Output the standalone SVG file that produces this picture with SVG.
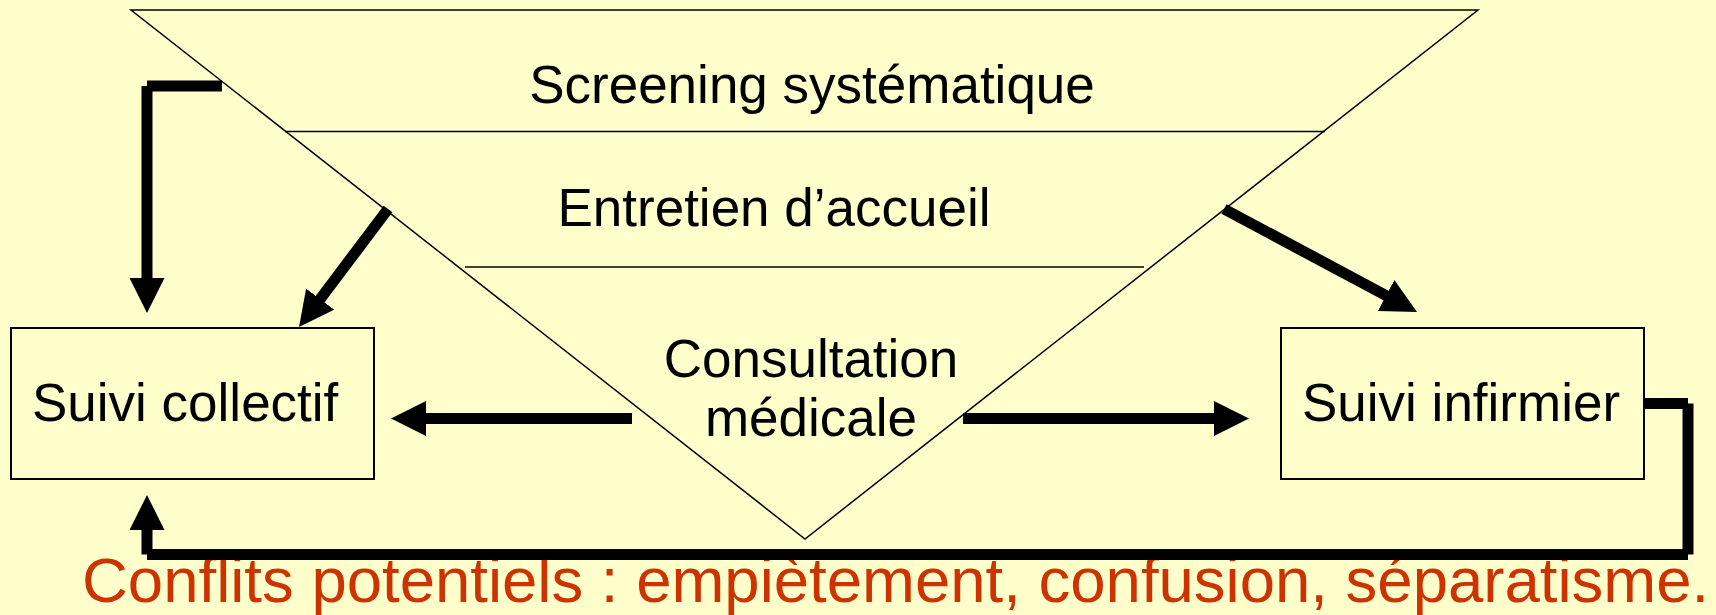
<svg xmlns="http://www.w3.org/2000/svg" width="1716" height="615" viewBox="0 0 1716 615">
  <style>
    .bg { fill: #FFFFCC; }
    .thin { fill: none; stroke: #000; stroke-width: 1.5; }
    .box { fill: none; stroke: #000; stroke-width: 2; }
    .lbl { font-family: "Liberation Sans", Arial, sans-serif; font-size: 53px; fill: #000; }
    .mid { text-anchor: middle; }
    .note { font-family: "Liberation Sans", Arial, sans-serif; font-size: 63.5px; fill: #CC3300; }
    .conn { fill: none; stroke: #000; stroke-width: 11; stroke-linecap: butt; stroke-linejoin: miter; }
  </style>
  <defs>
    <marker id="head" markerUnits="userSpaceOnUse" viewBox="0 0 35 35" markerWidth="35" markerHeight="35" refX="2" refY="17.5" orient="auto">
      <path d="M0,0 L35,17.5 L0,35 Z" fill="#000"/>
    </marker>
  </defs>
  <rect class="bg" x="0" y="0" width="1716" height="615"/>

  <g id="funnel">
    <polygon class="thin" points="131,10 1478,10 805,539"/>
    <line class="thin" x1="285" y1="131.5" x2="1325" y2="131.5"/>
    <line class="thin" x1="465" y1="267" x2="1144" y2="267"/>
  </g>

  <g id="screening">
    <text class="lbl mid" x="812" y="103">Screening systématique</text>
  </g>
  <g id="entretien">
    <text class="lbl mid" x="774" y="226">Entretien d’accueil</text>
  </g>
  <g id="consultation">
    <text class="lbl mid" x="811" y="377">Consultation</text>
    <text class="lbl mid" x="811" y="436">médicale</text>
  </g>

  <g id="suivi-collectif">
    <rect class="box" x="11" y="328" width="363" height="151"/>
    <text class="lbl" x="32" y="421">Suivi collectif</text>
  </g>
  <g id="suivi-infirmier">
    <rect class="box" x="1281" y="328" width="363" height="151"/>
    <text class="lbl" x="1302" y="421">Suivi infirmier</text>
  </g>

  <g id="conflits">
    <text class="note" x="82" y="601.5">Conflits potentiels : empiètement, confusion, séparatisme.</text>
  </g>

  <g id="connectors">
    <path class="conn" d="M222,86 H147 M147,86 V280" marker-end="url(#head)"/>
    <path class="conn" d="M388,209 L318.9,300.7" marker-end="url(#head)"/>
    <path class="conn" d="M1224,209 L1387.9,296.5" marker-end="url(#head)"/>
    <path class="conn" d="M632,418.5 H424" marker-end="url(#head)"/>
    <path class="conn" d="M963,418.5 H1216" marker-end="url(#head)"/>
    <path class="conn" d="M1644,403.5 H1688 M1688,403.5 V554.5 M1688,554.5 H147 M147,554.5 V528" marker-end="url(#head)"/>
  </g>
</svg>
